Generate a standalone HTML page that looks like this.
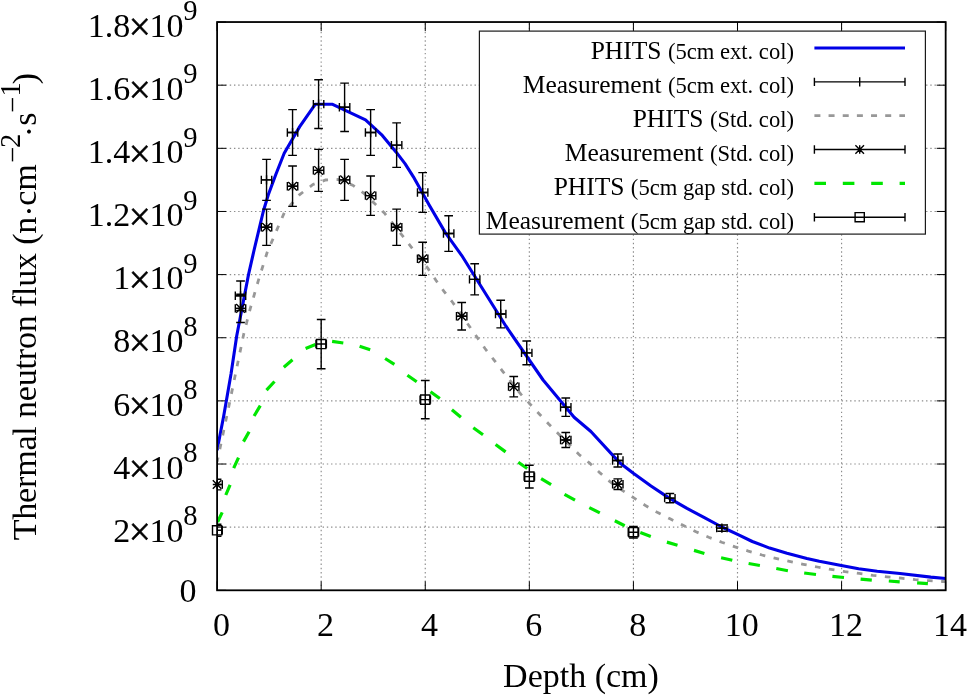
<!DOCTYPE html>
<html lang="en"><head><meta charset="utf-8"><title>Thermal neutron flux vs depth</title>
<style>html,body{margin:0;padding:0;background:#fff}svg{display:block;will-change:transform}text{font-family:"Liberation Serif","Times New Roman",serif;fill:#000}</style>
</head><body>
<svg width="967" height="696" viewBox="0 0 967 696">
<rect x="0" y="0" width="967" height="696" fill="#fff"/>
<g stroke="#8c8c8c" stroke-width="1.15" stroke-dasharray="1.4 2.82" fill="none">
<line x1="321.18" y1="590.3" x2="321.18" y2="22.04"/>
<line x1="425.26" y1="590.3" x2="425.26" y2="22.04"/>
<line x1="529.34" y1="590.3" x2="529.34" y2="22.04"/>
<line x1="633.42" y1="590.3" x2="633.42" y2="22.04"/>
<line x1="737.5" y1="590.3" x2="737.5" y2="22.04"/>
<line x1="841.58" y1="590.3" x2="841.58" y2="22.04"/>
<line x1="217.1" y1="527.16" x2="945.66" y2="527.16"/>
<line x1="217.1" y1="464.02" x2="945.66" y2="464.02"/>
<line x1="217.1" y1="400.88" x2="945.66" y2="400.88"/>
<line x1="217.1" y1="337.74" x2="945.66" y2="337.74"/>
<line x1="217.1" y1="274.6" x2="945.66" y2="274.6"/>
<line x1="217.1" y1="211.46" x2="945.66" y2="211.46"/>
<line x1="217.1" y1="148.32" x2="945.66" y2="148.32"/>
<line x1="217.1" y1="85.18" x2="945.66" y2="85.18"/>
</g>
<g stroke="#000" stroke-width="1" fill="none">
<line x1="217.1" y1="590.3" x2="217.1" y2="581.3"/>
<line x1="217.1" y1="22.04" x2="217.1" y2="31.04"/>
<line x1="321.18" y1="590.3" x2="321.18" y2="581.3"/>
<line x1="321.18" y1="22.04" x2="321.18" y2="31.04"/>
<line x1="425.26" y1="590.3" x2="425.26" y2="581.3"/>
<line x1="425.26" y1="22.04" x2="425.26" y2="31.04"/>
<line x1="529.34" y1="590.3" x2="529.34" y2="581.3"/>
<line x1="529.34" y1="22.04" x2="529.34" y2="31.04"/>
<line x1="633.42" y1="590.3" x2="633.42" y2="581.3"/>
<line x1="633.42" y1="22.04" x2="633.42" y2="31.04"/>
<line x1="737.5" y1="590.3" x2="737.5" y2="581.3"/>
<line x1="737.5" y1="22.04" x2="737.5" y2="31.04"/>
<line x1="841.58" y1="590.3" x2="841.58" y2="581.3"/>
<line x1="841.58" y1="22.04" x2="841.58" y2="31.04"/>
<line x1="945.66" y1="590.3" x2="945.66" y2="581.3"/>
<line x1="945.66" y1="22.04" x2="945.66" y2="31.04"/>
<line x1="217.1" y1="590.3" x2="226.1" y2="590.3"/>
<line x1="945.66" y1="590.3" x2="936.66" y2="590.3"/>
<line x1="217.1" y1="527.16" x2="226.1" y2="527.16"/>
<line x1="945.66" y1="527.16" x2="936.66" y2="527.16"/>
<line x1="217.1" y1="464.02" x2="226.1" y2="464.02"/>
<line x1="945.66" y1="464.02" x2="936.66" y2="464.02"/>
<line x1="217.1" y1="400.88" x2="226.1" y2="400.88"/>
<line x1="945.66" y1="400.88" x2="936.66" y2="400.88"/>
<line x1="217.1" y1="337.74" x2="226.1" y2="337.74"/>
<line x1="945.66" y1="337.74" x2="936.66" y2="337.74"/>
<line x1="217.1" y1="274.6" x2="226.1" y2="274.6"/>
<line x1="945.66" y1="274.6" x2="936.66" y2="274.6"/>
<line x1="217.1" y1="211.46" x2="226.1" y2="211.46"/>
<line x1="945.66" y1="211.46" x2="936.66" y2="211.46"/>
<line x1="217.1" y1="148.32" x2="226.1" y2="148.32"/>
<line x1="945.66" y1="148.32" x2="936.66" y2="148.32"/>
<line x1="217.1" y1="85.18" x2="226.1" y2="85.18"/>
<line x1="945.66" y1="85.18" x2="936.66" y2="85.18"/>
<line x1="217.1" y1="22.04" x2="226.1" y2="22.04"/>
<line x1="945.66" y1="22.04" x2="936.66" y2="22.04"/>
</g>
<defs><clipPath id="pc"><rect x="217.1" y="22.04" width="728.56" height="568.26"/></clipPath></defs>
<polyline points="217.1,450.3 223.7,416 231.1,373.4 236.7,336 248.5,274.6 254.1,250 263.4,211 268.3,194.8 276,174 284.2,153.3 299.7,126.6 315.2,104.3 332.6,104.3 365.5,119.8 382.3,135.4 396.4,152.4 405,163.6 413.4,176.8 429.3,205.3 445.3,232.6 461.6,255.3 505.8,326 543.1,380 574.1,417.2 590.9,431.5 620,463.1 633.7,473.6 651,486 669.6,498.4 687,508.4 704.4,517.7 721.8,527 737.6,534.4 752.3,541.5 769.6,548.1 787,553.2 806.9,558.4 819.3,561.3 840,565.3 858.6,568.7 877.2,571.2 900,573.5 930.8,577.1 945.7,578.5" fill="none" stroke="#0000e6" stroke-width="3.1" stroke-linejoin="round" clip-path="url(#pc)"/>
<path d="M240.52 310.48V281.02M236.17 310.48H244.87M236.17 281.02H244.87M235.31 295.75H245.72M235.31 291.55V299.95M245.72 291.55V299.95M266.54 200.41V159.37M262.19 200.41H270.89M262.19 159.37H270.89M261.33 179.89H271.74M261.33 175.69V184.09M271.74 175.69V184.09M292.56 155.42V109.65M288.21 155.42H296.91M288.21 109.65H296.91M287.35 132.53H297.76M287.35 128.33V136.73M297.76 128.33V136.73M318.58 128.43V79.81M314.23 128.43H322.93M314.23 79.81H322.93M313.37 104.12H323.78M313.37 99.92V108.32M323.78 99.92V108.32M344.6 131.43V83.13M340.25 131.43H348.95M340.25 83.13H348.95M339.39 107.28H349.8M339.39 103.08V111.48M349.8 103.08V111.48M370.62 155.42V109.65M366.27 155.42H374.97M366.27 109.65H374.97M365.41 132.53H375.82M365.41 128.33V136.73M375.82 128.33V136.73M396.64 167.42V122.91M392.29 167.42H400.99M392.29 122.91H400.99M391.43 145.16H401.84M391.43 140.96V149.36M401.84 140.96V149.36M422.66 212.41V172.63M418.31 212.41H427.01M418.31 172.63H427.01M417.45 192.52H427.86M417.45 188.32V196.72M427.86 188.32V196.72M448.68 251.4V215.72M444.33 251.4H453.03M444.33 215.72H453.03M443.47 233.56H453.88M443.47 229.36V237.76M453.88 229.36V237.76M474.7 294.88V263.79M470.35 294.88H479.05M470.35 263.79H479.05M469.49 279.34H479.9M469.49 275.14V283.54M479.9 275.14V283.54M500.72 327.87V300.25M496.37 327.87H505.07M496.37 300.25H505.07M495.51 314.06H505.92M495.51 309.86V318.26M505.92 309.86V318.26M526.74 364.76V341.02M522.39 364.76H531.09M522.39 341.02H531.09M521.53 352.89H531.94M521.53 348.69V357.09M531.94 348.69V357.09M565.77 416.35V398.04M561.42 416.35H570.12M561.42 398.04H570.12M560.56 407.19H570.97M560.56 402.99V411.39M570.97 402.99V411.39M617.81 467.03V454.06M613.46 467.03H622.16M613.46 454.06H622.16M612.6 460.55H623.01M612.6 456.35V464.75M623.01 456.35V464.75M669.85 502.72V493.51M665.5 502.72H674.2M665.5 493.51H674.2M664.64 498.12H675.05M664.64 493.92V502.32M675.05 493.92V502.32M721.89 531.22V525M717.54 531.22H726.24M717.54 525H726.24M716.68 528.11H727.09M716.68 523.91V532.31M727.09 523.91V532.31" fill="none" stroke="#000" stroke-width="1.4" clip-path="url(#pc)"/>
<path d="M235.92 295.75H245.12M240.52 291.15V300.35M261.94 179.89H271.14M266.54 175.29V184.49M287.96 132.53H297.16M292.56 127.93V137.13M313.98 104.12H323.18M318.58 99.52V108.72M340 107.28H349.2M344.6 102.68V111.88M366.02 132.53H375.22M370.62 127.93V137.13M392.04 145.16H401.24M396.64 140.56V149.76M418.06 192.52H427.26M422.66 187.92V197.12M444.08 233.56H453.28M448.68 228.96V238.16M470.1 279.34H479.3M474.7 274.74V283.94M496.12 314.06H505.32M500.72 309.46V318.66M522.14 352.89H531.34M526.74 348.29V357.49M561.17 407.19H570.37M565.77 402.59V411.79M613.21 460.55H622.41M617.81 455.95V465.15M665.25 498.12H674.45M669.85 493.52V502.72M717.29 528.11H726.49M721.89 523.51V532.71" fill="none" stroke="#000" stroke-width="1.4"/>
<polyline points="217.1,462 229.2,404.5 243.8,333.7 250.3,308.3 258.4,280.4 267.1,252.5 284.5,212.2 299.4,194.8 313,184.5 325.6,180 338,179.5 352.7,185.2 363.6,193.1 373.8,202.7 384.4,213 401.8,234.9 410.5,246.1 427.9,268.4 435.9,280.2 444,291.4 452.7,302.5 468.5,325 485,348.5 493.7,359.6 502.3,370.8 521,394.4 540,414.7 548.7,424 558.6,434 579,454.5 589.6,463.1 600,472.9 609.9,481.6 622.3,490.3 633.5,497.7 645.9,505.8 657.7,512.6 670.1,518.8 682.5,525 695.5,531.6 708.7,537.2 721.7,542.2 735.1,546.9 748.4,551.1 762,555 775.7,558.3 789.4,561.4 803.3,564.3 817.3,567 830.9,569.4 845.1,571.7 859.2,573.4 872.9,575.3 887,576.8 901.1,578.2 915.2,579.7 929.4,580.7 942.4,581.5 945.7,581.7" fill="none" stroke="#989898" stroke-width="2.8" stroke-dasharray="5.6 8.52" stroke-dashoffset="1.0" clip-path="url(#pc)"/>
<path d="M217.1 489.83V479.25M212.75 489.83H221.45M212.75 479.25H221.45M211.9 484.54H222.3M211.9 480.34V488.74M222.3 480.34V488.74M240.52 322.48V294.28M236.17 322.48H244.87M236.17 294.28H244.87M235.31 308.38H245.72M235.31 304.18V312.58M245.72 304.18V312.58M266.54 245.4V209.09M262.19 245.4H270.89M262.19 209.09H270.89M261.33 227.24H271.74M261.33 223.04V231.44M271.74 223.04V231.44M292.56 206.41V166M288.21 206.41H296.91M288.21 166H296.91M287.35 186.2H297.76M287.35 182V190.4M297.76 182V190.4M318.58 191.41V149.42M314.23 191.41H322.93M314.23 149.42H322.93M313.37 170.42H323.78M313.37 166.22V174.62M323.78 166.22V174.62M344.6 200.41V159.37M340.25 200.41H348.95M340.25 159.37H348.95M339.39 179.89H349.8M339.39 175.69V184.09M349.8 175.69V184.09M370.62 215.41V175.94M366.27 215.41H374.97M366.27 175.94H374.97M365.41 195.67H375.82M365.41 191.47V199.87M375.82 191.47V199.87M396.64 245.4V209.09M392.29 245.4H400.99M392.29 209.09H400.99M391.43 227.24H401.84M391.43 223.04V231.44M401.84 223.04V231.44M422.66 275.39V242.24M418.31 275.39H427.01M418.31 242.24H427.01M417.45 258.81H427.86M417.45 254.61V263.01M427.86 254.61V263.01M461.69 329.97V302.57M457.34 329.97H466.04M457.34 302.57H466.04M456.48 316.27H466.89M456.48 312.07V320.47M466.89 312.07V320.47M513.73 396.85V376.49M509.38 396.85H518.08M509.38 376.49H518.08M508.52 386.67H518.93M508.52 382.47V390.87M518.93 382.47V390.87M565.77 447.54V432.51M561.42 447.54H570.12M561.42 432.51H570.12M560.56 440.03H570.97M560.56 435.83V444.23M570.97 435.83V444.23M617.81 489.53V478.92M613.46 489.53H622.16M613.46 478.92H622.16M612.6 484.22H623.01M612.6 480.02V488.42M623.01 480.02V488.42" fill="none" stroke="#000" stroke-width="1.4" clip-path="url(#pc)"/>
<path d="M212.8 484.54H221.4M217.1 480.24V488.84M212.8 480.24L221.4 488.84M212.8 488.84L221.4 480.24M236.22 308.38H244.82M240.52 304.08V312.68M236.22 304.08L244.82 312.68M236.22 312.68L244.82 304.08M262.24 227.24H270.84M266.54 222.94V231.54M262.24 222.94L270.84 231.54M262.24 231.54L270.84 222.94M288.26 186.2H296.86M292.56 181.9V190.5M288.26 181.9L296.86 190.5M288.26 190.5L296.86 181.9M314.28 170.42H322.88M318.58 166.12V174.72M314.28 166.12L322.88 174.72M314.28 174.72L322.88 166.12M340.3 179.89H348.9M344.6 175.59V184.19M340.3 175.59L348.9 184.19M340.3 184.19L348.9 175.59M366.32 195.67H374.92M370.62 191.37V199.97M366.32 191.37L374.92 199.97M366.32 199.97L374.92 191.37M392.34 227.24H400.94M396.64 222.94V231.54M392.34 222.94L400.94 231.54M392.34 231.54L400.94 222.94M418.36 258.81H426.96M422.66 254.51V263.11M418.36 254.51L426.96 263.11M418.36 263.11L426.96 254.51M457.39 316.27H465.99M461.69 311.97V320.57M457.39 311.97L465.99 320.57M457.39 320.57L465.99 311.97M509.43 386.67H518.03M513.73 382.37V390.97M509.43 382.37L518.03 390.97M509.43 390.97L518.03 382.37M561.47 440.03H570.07M565.77 435.73V444.33M561.47 435.73L570.07 444.33M561.47 444.33L570.07 435.73M613.51 484.22H622.11M617.81 479.92V488.52M613.51 479.92L622.11 488.52M613.51 488.52L622.11 479.92" fill="none" stroke="#000" stroke-width="1.4"/>
<path d="M217.6 522L222.2 512.4M225.8 495L230.1 484.8M233.7 468.2L238.5 457.6M243.5 441.6L249.1 431.7M254.1 416L260.3 405.7M266.5 390.2L274.5 381.5M283.8 367.2L292.5 359.8M305.6 348.6L315.5 344.6M332.1 341.3L343.3 343M359.6 346.3L370.2 349.8M385.1 358.5L394.4 364.4M407.4 375.2L416.7 381.7M430.5 391.7L439.8 398.5M451.9 409.7L460.9 417.2M473.3 427.7L483 434.8M495.6 444.5L505.6 451.9M518.3 462.3L527.2 468.5M541.1 478.6L551.1 484.6M564.5 494.3L575 500.1M589.3 507.6L599.8 512.9M614.8 520.8L624.7 525.7M640.3 532.6L650.8 536.5M666.9 542.1L677.5 545.2M694 550.4L704.4 553.5M721.1 557.7L732.3 560.2M748.6 563.5L759.9 565.5M776.3 568.5L787.9 570.7M804.2 573L816 574.5M832.4 576.3L844 577.5M860.6 579.2L871.8 580.2M888.8 581L899.7 581.8M917.1 582.8L927.9 583.6" fill="none" stroke="#00e600" stroke-width="3.2" clip-path="url(#pc)"/>
<path d="M217.1 536.32V524.32M212.75 536.32H221.45M212.75 524.32H221.45M211.9 530.32H222.3M211.9 526.12V534.52M222.3 526.12V534.52M321.18 368.68V319.43M316.83 368.68H325.53M316.83 319.43H325.53M315.98 344.05H326.38M315.98 339.85V348.25M326.38 339.85V348.25M425.26 418.69V380.55M420.91 418.69H429.61M420.91 380.55H429.61M420.06 399.62H430.46M420.06 395.42V403.82M430.46 395.42V403.82M529.34 488.01V465.28M524.99 488.01H533.69M524.99 465.28H533.69M524.14 476.65H534.54M524.14 472.45V480.85M534.54 472.45V480.85M633.42 538.02V526.4M629.07 538.02H637.77M629.07 526.4H637.77M628.22 532.21H638.62M628.22 528.01V536.41M638.62 528.01V536.41" fill="none" stroke="#000" stroke-width="1.4" clip-path="url(#pc)"/>
<path d="M212.5 525.72H221.7V534.92H212.5ZM316.58 339.45H325.78V348.65H316.58ZM420.66 395.02H429.86V404.22H420.66ZM524.74 472.05H533.94V481.25H524.74ZM628.82 527.61H638.02V536.81H628.82Z" fill="none" stroke="#000" stroke-width="1.4"/>
<rect x="479.4" y="31.1" width="446" height="203" fill="#fff" stroke="#1a1a1a" stroke-width="1.2"/>
<line x1="814.4" y1="48.02" x2="905" y2="48.02" stroke="#0000e6" stroke-width="3.1"/>
<line x1="814.4" y1="115.68" x2="905" y2="115.68" stroke="#989898" stroke-width="2.8" stroke-dasharray="6 8.16"/>
<line x1="814.4" y1="183.35" x2="905" y2="183.35" stroke="#00e600" stroke-width="3.2" stroke-dasharray="11.6 16.8"/>
<path d="M814.4 81.85H905M814.4 77.65V86.05M905 77.65V86.05M855.1 81.85H864.3M859.7 77.25V86.45" fill="none" stroke="#000" stroke-width="1.4"/>
<path d="M814.4 149.52H905M814.4 145.32V153.72M905 145.32V153.72M855.4 149.52H864M859.7 145.22V153.82M855.4 145.22L864 153.82M855.4 153.82L864 145.22" fill="none" stroke="#000" stroke-width="1.4"/>
<path d="M814.4 217.18H905M814.4 212.98V221.38M905 212.98V221.38M855.1 212.58H864.3V221.78H855.1Z" fill="none" stroke="#000" stroke-width="1.4"/>
<rect x="217.1" y="22.04" width="728.56" height="568.26" fill="none" stroke="#000" stroke-width="1.8"/>
<text x="196.6" y="602.2" font-size="34.0" text-anchor="end">0</text>
<text x="183.4" y="541.86" font-size="34.0" text-anchor="end">2<tspan font-size="39.0" dx="-1.4" dy="3.6" stroke="#000" stroke-width="0.55">×</tspan><tspan dx="-1.4" dy="-3.6">10</tspan></text>
<text x="183.2" y="525.36" font-size="28.6" text-anchor="start">8</text>
<text x="183.4" y="478.72" font-size="34.0" text-anchor="end">4<tspan font-size="39.0" dx="-1.4" dy="3.6" stroke="#000" stroke-width="0.55">×</tspan><tspan dx="-1.4" dy="-3.6">10</tspan></text>
<text x="183.2" y="462.22" font-size="28.6" text-anchor="start">8</text>
<text x="183.4" y="415.58" font-size="34.0" text-anchor="end">6<tspan font-size="39.0" dx="-1.4" dy="3.6" stroke="#000" stroke-width="0.55">×</tspan><tspan dx="-1.4" dy="-3.6">10</tspan></text>
<text x="183.2" y="399.08" font-size="28.6" text-anchor="start">8</text>
<text x="183.4" y="352.44" font-size="34.0" text-anchor="end">8<tspan font-size="39.0" dx="-1.4" dy="3.6" stroke="#000" stroke-width="0.55">×</tspan><tspan dx="-1.4" dy="-3.6">10</tspan></text>
<text x="183.2" y="335.94" font-size="28.6" text-anchor="start">8</text>
<text x="183.4" y="289.3" font-size="34.0" text-anchor="end">1<tspan font-size="39.0" dx="-1.4" dy="3.6" stroke="#000" stroke-width="0.55">×</tspan><tspan dx="-1.4" dy="-3.6">10</tspan></text>
<text x="183.2" y="272.8" font-size="28.6" text-anchor="start">9</text>
<text x="183.4" y="226.16" font-size="34.0" text-anchor="end">1.2<tspan font-size="39.0" dx="-1.4" dy="3.6" stroke="#000" stroke-width="0.55">×</tspan><tspan dx="-1.4" dy="-3.6">10</tspan></text>
<text x="183.2" y="209.66" font-size="28.6" text-anchor="start">9</text>
<text x="183.4" y="163.02" font-size="34.0" text-anchor="end">1.4<tspan font-size="39.0" dx="-1.4" dy="3.6" stroke="#000" stroke-width="0.55">×</tspan><tspan dx="-1.4" dy="-3.6">10</tspan></text>
<text x="183.2" y="146.52" font-size="28.6" text-anchor="start">9</text>
<text x="183.4" y="99.88" font-size="34.0" text-anchor="end">1.6<tspan font-size="39.0" dx="-1.4" dy="3.6" stroke="#000" stroke-width="0.55">×</tspan><tspan dx="-1.4" dy="-3.6">10</tspan></text>
<text x="183.2" y="83.38" font-size="28.6" text-anchor="start">9</text>
<text x="183.4" y="36.74" font-size="34.0" text-anchor="end">1.8<tspan font-size="39.0" dx="-1.4" dy="3.6" stroke="#000" stroke-width="0.55">×</tspan><tspan dx="-1.4" dy="-3.6">10</tspan></text>
<text x="183.2" y="20.24" font-size="28.6" text-anchor="start">9</text>
<text x="221.4" y="636.3" font-size="34.0" text-anchor="middle">0</text>
<text x="325.48" y="636.3" font-size="34.0" text-anchor="middle">2</text>
<text x="429.56" y="636.3" font-size="34.0" text-anchor="middle">4</text>
<text x="533.64" y="636.3" font-size="34.0" text-anchor="middle">6</text>
<text x="637.72" y="636.3" font-size="34.0" text-anchor="middle">8</text>
<text x="741.8" y="636.3" font-size="34.0" text-anchor="middle">10</text>
<text x="845.88" y="636.3" font-size="34.0" text-anchor="middle">12</text>
<text x="949.96" y="636.3" font-size="34.0" text-anchor="middle">14</text>
<text x="581" y="686.8" font-size="34.0" text-anchor="middle">Depth (cm)</text>
<g transform="translate(36.4,0) rotate(-90)">
<text x="-540.3" y="0" font-size="34.0" letter-spacing="-0.18">Thermal neutron flux (n<tspan dy="3.2">·</tspan><tspan dy="-3.2">cm</tspan></text>
<text x="-163" y="-14.2" font-size="28.6">−</text>
<text x="-148" y="-16.5" font-size="28.6">2</text>
<text x="-137.2" y="0" font-size="34.0"><tspan dy="3.2">·</tspan><tspan dy="-3.2">s</tspan></text>
<text x="-112.9" y="-14.2" font-size="28.6">−</text>
<text x="-96.5" y="-16.5" font-size="28.6">1</text>
<text x="-84.3" y="0" font-size="34.0">)</text>
</g>
<text x="794" y="59.42" text-anchor="end" font-size="25.5">PHITS <tspan font-size="22.6">(5cm ext. col)</tspan></text>
<text x="794" y="93.25" text-anchor="end" font-size="25.5">Measurement <tspan font-size="22.6">(5cm ext. col)</tspan></text>
<text x="794" y="127.08" text-anchor="end" font-size="25.5">PHITS <tspan font-size="22.6">(Std. col)</tspan></text>
<text x="794" y="160.92" text-anchor="end" font-size="25.5">Measurement <tspan font-size="22.6">(Std. col)</tspan></text>
<text x="794" y="194.75" text-anchor="end" font-size="25.5">PHITS <tspan font-size="22.6">(5cm gap std. col)</tspan></text>
<text x="794" y="228.58" text-anchor="end" font-size="25.5">Measurement <tspan font-size="22.6">(5cm gap std. col)</tspan></text>
</svg>
</body></html>
